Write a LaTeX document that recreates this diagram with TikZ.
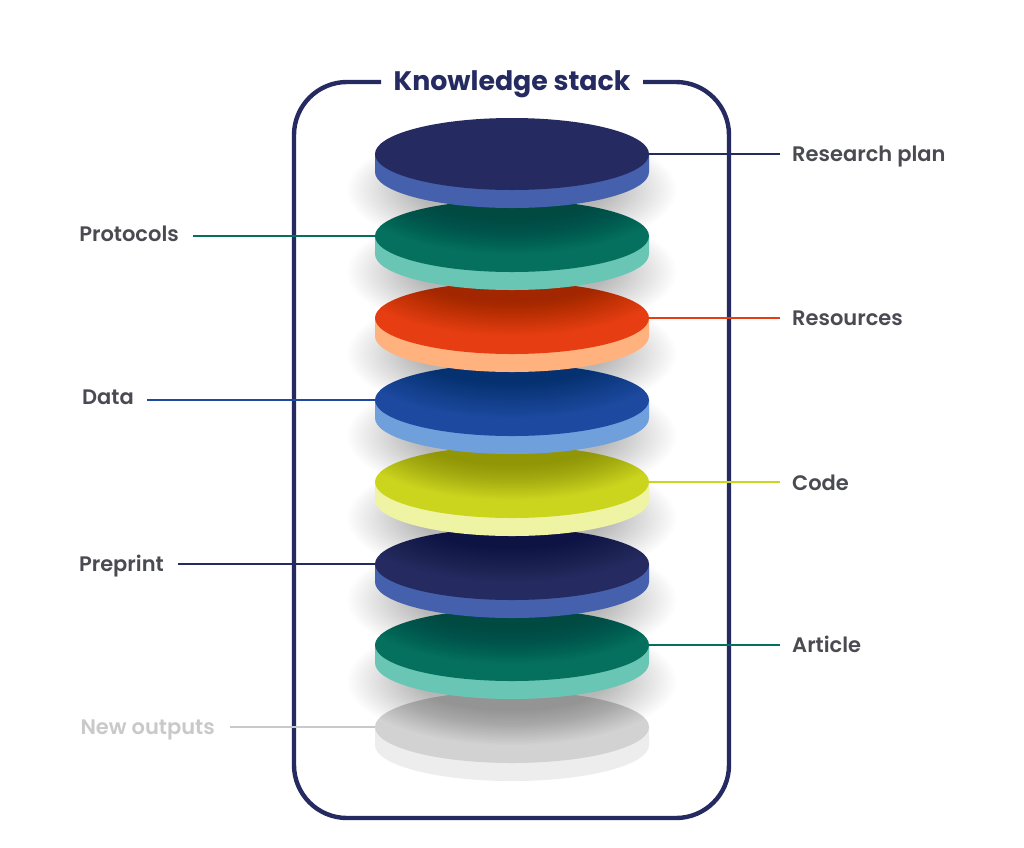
\documentclass[tikz,border=0pt]{standalone}
\usepackage{fontspec}
\setmainfont{Poppins}[BoldFont={Poppins SemiBold}]
\newfontfamily\titlefont{Poppins}[UprightFont={* Bold}]
\usetikzlibrary{shapes.geometric}
\definecolor{navy}{HTML}{252B61}
\definecolor{navyside}{HTML}{4560AD}
\definecolor{teal1}{HTML}{06705F}
\definecolor{tealside}{HTML}{69C6B4}
\definecolor{red1}{HTML}{E63E12}
\definecolor{redside}{HTML}{FFB27E}
\definecolor{blue1}{HTML}{1D49A0}
\definecolor{blueside}{HTML}{6FA0DC}
\definecolor{yel1}{HTML}{CCD51E}
\definecolor{yelside}{HTML}{EFF4A5}
\definecolor{grey1}{HTML}{D2D2D2}
\definecolor{greyside}{HTML}{EDEDED}
\definecolor{labelgrey}{HTML}{4A4A52}
\definecolor{newgrey}{HTML}{C9C9C9}
\tikzset{
  disctop/.style={ellipse,inner sep=0pt,minimum width=274pt,minimum height=72pt,fill=#1},
  lbl/.style={inner sep=0pt,text height=15pt,text depth=5pt,font=\bfseries\fontsize{21}{24}\selectfont,text=labelgrey},
  lead/.style={line width=1.4pt,draw=#1},
  framestyle/.style={draw=navy,line width=4.4pt,rounded corners=53pt},
}
% \stackdisc{name}{centre y}{top colour}{side colour}
\newcommand{\stackdisc}[4]{%
  \fill[#4] (375,#2) -- ++(0,18) arc[start angle=180,end angle=0,x radius=137,y radius=36] -- ++(0,-18) -- cycle;
  \node[disctop=#3] (#1) at (512,#2) {};
}
% soft shadow cast below a disc at centre y
\newcommand{\softshadow}[1]{%
  \foreach \k in {0,...,23}{
    \fill[black,opacity=0.0105] (512,#1+36) ellipse[x radius={164-3*\k},y radius={64-1.5*\k}];
  }%
}
\begin{document}
\begin{tikzpicture}[x=1pt,y=-1pt]
\useasboundingbox (0,0) rectangle (1024,847);
\fill[white] (0,0) rectangle (1024,847);
\coordinate (fa) at (381,82);
\coordinate (fb) at (294,82);
\coordinate (fc) at (294,818);
\coordinate (fd) at (729,818);
\coordinate (fe) at (729,82);
\coordinate (ff) at (643,82);
\draw[framestyle] (fa) -- (fb) -- (fc) -- (fd) -- (fe) -- (ff);
\node[inner sep=0pt,text height=20pt,text depth=7pt,font=\titlefont\fontsize{26.8}{32}\selectfont,text=navy] (title) at (512,84) {Knowledge stack};
\stackdisc{d8}{727}{grey1}{greyside}
\softshadow{645}
\stackdisc{d7}{645}{teal1}{tealside}
\softshadow{564}
\stackdisc{d6}{564}{navy}{navyside}
\softshadow{482}
\stackdisc{d5}{482}{yel1}{yelside}
\softshadow{400}
\stackdisc{d4}{400}{blue1}{blueside}
\softshadow{318}
\stackdisc{d3}{318}{red1}{redside}
\softshadow{236}
\stackdisc{d2}{236}{teal1}{tealside}
\softshadow{154}
\stackdisc{d1}{154}{navy}{navyside}
\node[lbl,anchor=west] (l1) at (792,156) {Research plan};
\node[lbl,anchor=east] (l2) at (179,236) {Protocols};
\node[lbl,anchor=west] (l3) at (792,320) {Resources};
\node[lbl,anchor=east] (l4) at (134,399) {Data};
\node[lbl,anchor=west] (l5) at (792,485) {Code};
\node[lbl,anchor=east] (l6) at (164,566) {Preprint};
\node[lbl,anchor=west] (l7) at (792,647) {Article};
\node[lbl,anchor=east,text=newgrey] (l8) at (215,729) {New outputs};
\draw[lead=navy,shorten >=12pt] (d1.east) -- (d1.east -| l1.west);
\draw[lead=teal1,shorten >=14pt] (d2.west) -- (d2.west -| l2.east);
\draw[lead=red1,shorten >=12pt] (d3.east) -- (d3.east -| l3.west);
\draw[lead=blue1,shorten >=13pt] (d4.west) -- (d4.west -| l4.east);
\draw[lead=yel1,shorten >=12pt] (d5.east) -- (d5.east -| l5.west);
\draw[lead=navy,shorten >=14pt] (d6.west) -- (d6.west -| l6.east);
\draw[lead=teal1,shorten >=12pt] (d7.east) -- (d7.east -| l7.west);
\draw[lead=newgrey,shorten >=15pt] (d8.west) -- (d8.west -| l8.east);
\end{tikzpicture}
\end{document}
